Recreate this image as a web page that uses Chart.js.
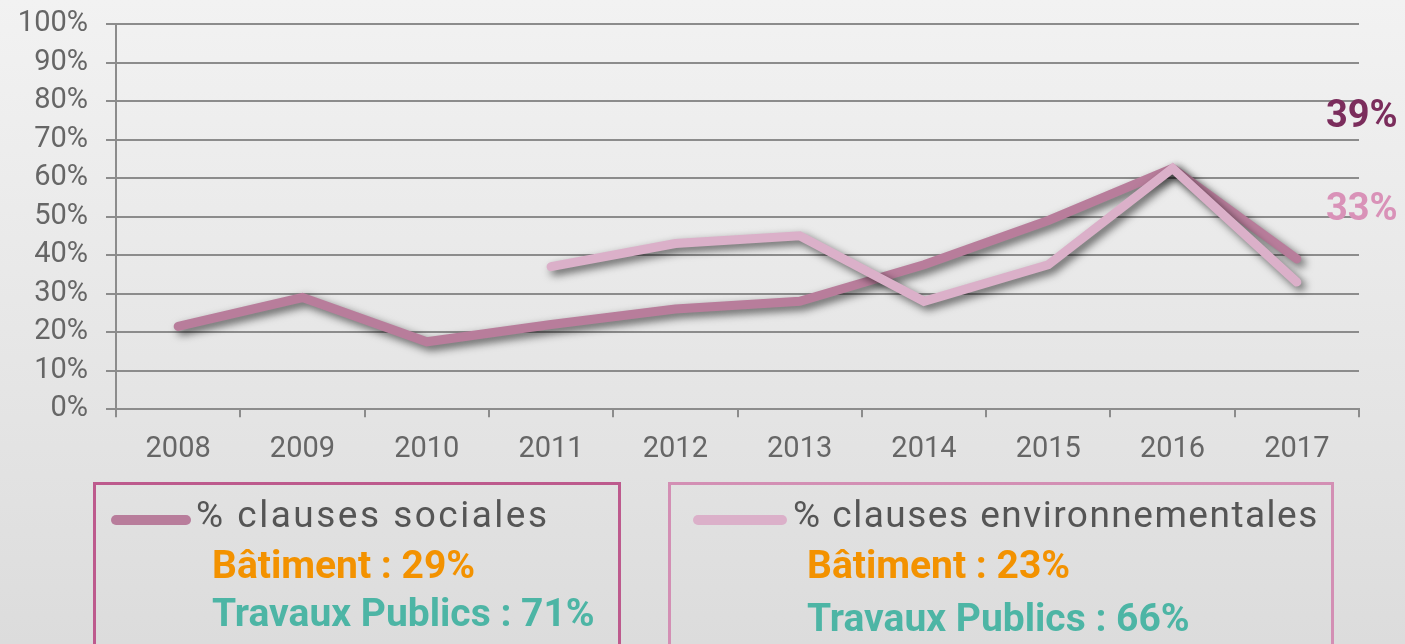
<!DOCTYPE html>
<html>
<head>
<meta charset="utf-8">
<script src="https://cdn.jsdelivr.net/npm/chart.js@4"></script>
<style>
  html, body { margin: 0; padding: 0; }
  body {
    width: 1405px; height: 644px; overflow: hidden; position: relative;
    background: linear-gradient(to bottom, #f2f2f2 0%, #e4e4e4 65%, #dcdcdc 100%);
    font-family: Roboto, "Noto Sans", sans-serif;
  }
  #wrap { position: absolute; left: 0; top: 0; width: 1405px; height: 483px; }
  .endlab { position: absolute; font-weight: bold; font-size: 38px; }
  .box { position: absolute; top: 482px; height: 170px; border: 3px solid; box-sizing: border-box; }
  .sample { position: absolute; height: 10px; border-radius: 5px; }
  .ltxt { position: absolute; white-space: nowrap; font-size: 37px; color: #555; letter-spacing: 1.5px; }
  .bat { position: absolute; white-space: nowrap; font-size: 39px; font-weight: bold; color: #f39200; }
  .tp { position: absolute; white-space: nowrap; font-size: 39px; font-weight: bold; color: #4db5a5; }
</style>
</head>
<body>
<div id="wrap"><canvas id="myChart"></canvas></div>

<div class="endlab" style="left:1326px; top:92px; color:#7b2d5c;">39%</div>
<div class="endlab" style="left:1326px; top:185px; color:#d992b8;">33%</div>

<div class="box" style="left:93px; width:528px; border-color:#bd5a8d;">
  <div class="sample" style="left:15px; top:30px; width:80px; background:#b87d9b;"></div>
  <div class="ltxt" style="left:100px; top:8px; letter-spacing:2.5px;">% clauses sociales</div>
  <div class="bat" style="left:116px; top:57px;">Bâtiment : 29%</div>
  <div class="tp" style="left:116px; top:105px;">Travaux Publics : 71%</div>
</div>
<div class="box" style="left:668px; width:666px; border-color:#d38fb4;">
  <div class="sample" style="left:22px; top:30px; width:94px; background:#dbb0c9;"></div>
  <div class="ltxt" style="left:122px; top:8px;">% clauses environnementales</div>
  <div class="bat" style="left:136px; top:57px;">Bâtiment : 23%</div>
  <div class="tp" style="left:136px; top:110px;">Travaux Publics : 66%</div>
</div>

<script>
var annees = ['2008', '2009', '2010', '2011', '2012', '2013', '2014', '2015', '2016', '2017'];
var sociales = [21.5, 29, 17.5, 22, 26, 28, 37.5, 49, 62.5, 39];
var environnementales = [null, null, null, 37, 43, 45, 28, 37.5, 62.5, 33];

// ombre portée sous les courbes
var ombre = {
  id: 'ombre',
  beforeDatasetDraw: function(chart) {
    var ctx = chart.ctx;
    ctx.save();
    ctx.shadowColor = 'rgba(0,0,0,0.6)';
    ctx.shadowBlur = 9;
    ctx.shadowOffsetX = 4;
    ctx.shadowOffsetY = 4;
  },
  afterDatasetDraw: function(chart) {
    chart.ctx.restore();
  }
};

var ctx = document.getElementById("myChart").getContext('2d');
var myChart = new Chart(ctx, {
  type: 'line',
  data: {
    labels: annees,
    datasets: [{
      label: '% clauses sociales',
      data: sociales,
      borderColor: '#b87d9b',
      borderWidth: 9,
      borderCapStyle: 'round',
      borderJoinStyle: 'miter',
      pointRadius: 0,
      tension: 0,
      order: 1
    }, {
      label: '% clauses environnementales',
      data: environnementales,
      borderColor: '#dbb0c9',
      borderWidth: 9,
      borderCapStyle: 'round',
      borderJoinStyle: 'miter',
      pointRadius: 0,
      tension: 0,
      order: 0
    }]
  },
  options: {
    responsive: true,
    maintainAspectRatio: false,
    animation: false,
    layout: { padding: { top: 24, right: 46, left: 14, bottom: 1 } },
    plugins: { legend: { display: false }, tooltip: { enabled: false } },
    scales: {
      x: {
        offset: true,
        grid: { offset: true, drawOnChartArea: false, drawTicks: true, tickLength: 8, color: '#8c8c8c', lineWidth: 2 },
        border: { color: '#8c8c8c', width: 2 },
        ticks: { color: '#666', font: { family: 'Roboto', size: 29 }, padding: 15, maxRotation: 0, autoSkip: false }
      },
      y: {
        min: 0, max: 100,
        afterFit: function(scale) {
          scale.width = 102;
          scale.paddingTop = 0;
          scale.paddingBottom = 0;
        },
        grid: { color: '#8c8c8c', lineWidth: 2, tickLength: 10 },
        border: { color: '#8c8c8c', width: 2 },
        ticks: {
          stepSize: 10,
          autoSkip: false,
          color: '#666',
          font: { family: 'Roboto', size: 29 },
          padding: 18,
          callback: function(v) { return v + '%'; }
        }
      }
    }
  },
  plugins: [ombre]
});
</script>
</body>
</html>
